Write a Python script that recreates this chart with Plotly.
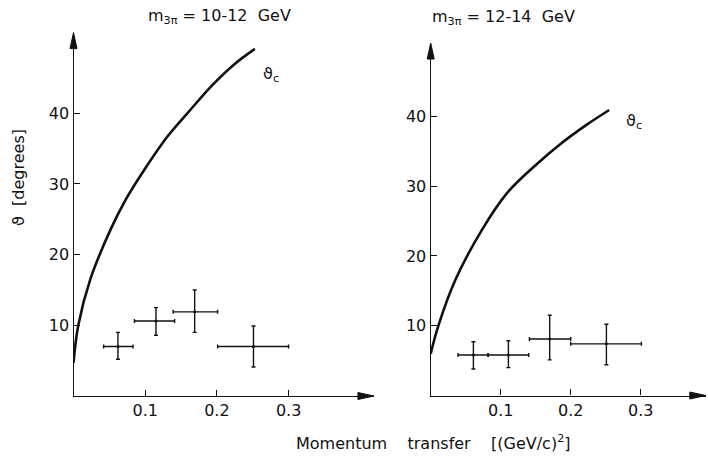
import plotly.graph_objects as go

# ---- data ----
# left panel: m_3pi = 10-12 GeV
curve1_t = [0.0, 0.0067, 0.0234, 0.052, 0.073, 0.0988, 0.131, 0.159, 0.192, 0.224, 0.253]
curve1_th = [4.7, 10.0, 16.5, 23.6, 27.8, 32.0, 36.7, 40.0, 43.8, 46.9, 49.1]
pts1_t = [0.062, 0.115, 0.169, 0.251]
pts1_t_lo = [0.042, 0.085, 0.139, 0.201]
pts1_t_hi = [0.083, 0.141, 0.201, 0.300]
pts1_th = [7.0, 10.6, 11.9, 7.0]
pts1_th_hi = [9.0, 12.5, 15.0, 9.9]
pts1_th_lo = [5.2, 8.6, 9.0, 4.1]

# right panel: m_3pi = 12-14 GeV
curve2_t = [0.0, 0.011, 0.035, 0.073, 0.109, 0.151, 0.185, 0.223, 0.255]
curve2_th = [6.0, 10.0, 16.5, 23.7, 29.0, 33.1, 36.0, 38.8, 40.9]
pts2_t = [0.061, 0.111, 0.170, 0.251]
pts2_t_lo = [0.039, 0.082, 0.141, 0.200]
pts2_t_hi = [0.082, 0.140, 0.200, 0.301]
pts2_th = [5.8, 5.8, 8.1, 7.4]
pts2_th_hi = [7.7, 7.85, 11.5, 10.2]
pts2_th_lo = [3.8, 4.0, 5.1, 4.4]

x_tickvals = [0.1, 0.2, 0.3]
x_ticktext = ["0.1", "0.2", "0.3"]
y_tickvals = [10, 20, 30, 40]
y_ticktext = ["10", "20", "30", "40"]

titles = ["m<sub>3π</sub> = 10-12  GeV", "m<sub>3π</sub> = 12-14  GeV"]
x_title = "Momentum    transfer    [(GeV/c)<sup>2</sup>]"
y_title = "ϑ  [degrees]"
curve_label = "ϑ<sub>c</sub>"

W, H = 708, 457
FONT = "DejaVu Sans"
ink = "#111111"
FS = 16

fig = go.Figure()


def add_panel(xa, ya, ct, cth, pt, plo, phi, pth, pthlo, pthhi):
    fig.add_trace(go.Scatter(x=ct, y=cth, mode="lines", line=dict(color=ink, width=2.6, shape="spline"),
                             xaxis=xa, yaxis=ya, showlegend=False, hoverinfo="skip"))
    fig.add_trace(go.Scatter(
        x=pt, y=pth, mode="markers", marker=dict(size=3, color=ink),
        error_x=dict(type="data", symmetric=False,
                     array=[h - c for h, c in zip(phi, pt)],
                     arrayminus=[c - l for l, c in zip(plo, pt)],
                     color=ink, thickness=1.4, width=2),
        error_y=dict(type="data", symmetric=False,
                     array=[h - c for h, c in zip(pthhi, pth)],
                     arrayminus=[c - l for l, c in zip(pthlo, pth)],
                     color=ink, thickness=1.4, width=2),
        xaxis=xa, yaxis=ya, showlegend=False, hoverinfo="skip"))


add_panel("x", "y", curve1_t, curve1_th, pts1_t, pts1_t_lo, pts1_t_hi, pts1_th, pts1_th_lo, pts1_th_hi)
add_panel("x2", "y2", curve2_t, curve2_th, pts2_t, pts2_t_lo, pts2_t_hi, pts2_th, pts2_th_lo, pts2_th_hi)

# pixel geometry of the two frames
X0 = [73.5, 430.7]        # px of t = 0
XS = [717.0, 700.0]       # px per unit t
Y0 = [396.0, 395.5]       # px (from top) of theta = 0
YS = [7.07, 6.98]         # px per degree
XMAX = [0.419, 0.393]
YMAX = [51.4, 50.5]

doms = []
for i in range(2):
    xd = [X0[i] / W, (X0[i] + XS[i] * XMAX[i]) / W]
    yd = [(H - Y0[i]) / H, (H - (Y0[i] - YS[i] * YMAX[i])) / H]
    doms.append((xd, yd))

axis_common = dict(showgrid=False, zeroline=False, showline=True, linecolor=ink, linewidth=1.4,
                   ticks="inside", ticklen=6, tickwidth=1.4, tickcolor=ink,
                   tickfont=dict(family=FONT, size=FS, color=ink), fixedrange=True)

fig.update_layout(
    width=W, height=H, margin=dict(l=0, r=0, t=0, b=0),
    paper_bgcolor="white", plot_bgcolor="white",
    xaxis=dict(domain=doms[0][0], range=[0, XMAX[0]], anchor="y", tickvals=x_tickvals, ticktext=x_ticktext, **axis_common),
    yaxis=dict(domain=doms[0][1], range=[0, YMAX[0]], anchor="x", tickvals=y_tickvals, ticktext=y_ticktext, **axis_common),
    xaxis2=dict(domain=doms[1][0], range=[0, XMAX[1]], anchor="y2", tickvals=x_tickvals, ticktext=x_ticktext, **axis_common),
    yaxis2=dict(domain=doms[1][1], range=[0, YMAX[1]], anchor="x2", tickvals=y_tickvals, ticktext=y_ticktext, **axis_common),
)

# filled arrowheads at the axis tips (paper coords from pixel geometry)
def px(xp):
    return xp / W


def py(yp):
    return 1 - yp / H


shapes = []
AL, AW = 16, 3.5
for i in range(2):
    tipx = X0[i] + XS[i] * XMAX[i]
    tipy = Y0[i]
    shapes.append(dict(type="path", xref="paper", yref="paper", fillcolor=ink, line=dict(color=ink, width=1),
                       path=f"M {px(tipx)} {py(tipy)} L {px(tipx - AL)} {py(tipy - AW)} L {px(tipx - AL)} {py(tipy + AW)} Z"))
    tx = X0[i]
    ty = Y0[i] - YS[i] * YMAX[i]
    shapes.append(dict(type="path", xref="paper", yref="paper", fillcolor=ink, line=dict(color=ink, width=1),
                       path=f"M {px(tx)} {py(ty)} L {px(tx - AW)} {py(ty + AL)} L {px(tx + AW)} {py(ty + AL)} Z"))
fig.update_layout(shapes=shapes)

annos = []
# curve labels
annos.append(dict(x=0.262, y=45.5, xref="x", yref="y", text=curve_label, showarrow=False,
                  xanchor="left", font=dict(family=FONT, size=FS, color=ink)))
annos.append(dict(x=0.276, y=39.3, xref="x2", yref="y2", text=curve_label, showarrow=False,
                  xanchor="left", font=dict(family=FONT, size=FS, color=ink)))

# panel titles
annos.append(dict(x=219 / W, y=1 - 16 / H, xref="paper", yref="paper", text=titles[0], showarrow=False,
                  xanchor="center", yanchor="middle", font=dict(family=FONT, size=FS, color=ink)))
annos.append(dict(x=503 / W, y=1 - 18 / H, xref="paper", yref="paper", text=titles[1], showarrow=False,
                  xanchor="center", yanchor="middle", font=dict(family=FONT, size=FS, color=ink)))

# axis titles
annos.append(dict(x=433 / W, y=1 - 442 / H, xref="paper", yref="paper", text=x_title, showarrow=False,
                  xanchor="center", yanchor="middle", font=dict(family=FONT, size=FS, color=ink)))
annos.append(dict(x=18 / W, y=1 - 178 / H, xref="paper", yref="paper", text=y_title, showarrow=False,
                  textangle=-90, xanchor="center", yanchor="middle", font=dict(family=FONT, size=FS, color=ink)))

fig.update_layout(annotations=annos)
fig.write_html("out.html")
